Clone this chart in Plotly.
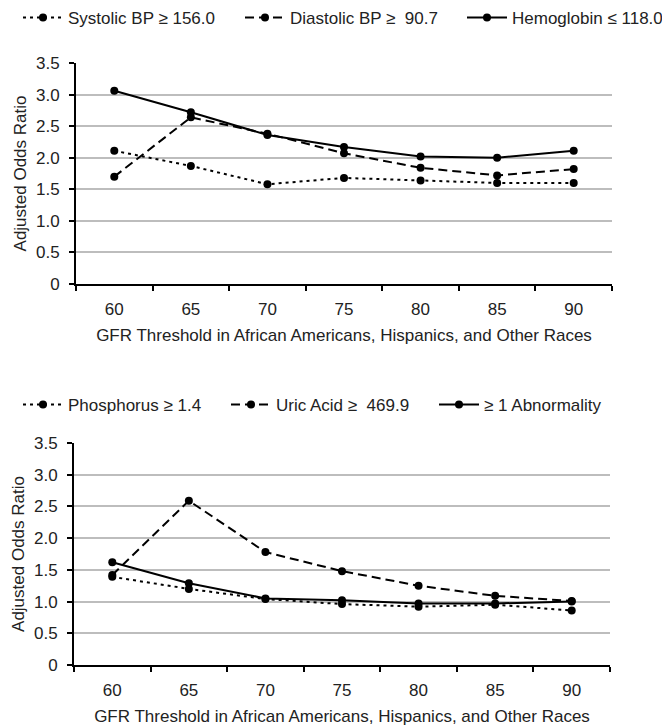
import plotly.graph_objects as go

thresholds = ["60", "65", "70", "75", "80", "85", "90"]
systolic = [2.11, 1.87, 1.58, 1.68, 1.64, 1.60, 1.60]
diastolic = [1.70, 2.64, 2.38, 2.07, 1.84, 1.72, 1.82]
hemoglobin = [3.06, 2.72, 2.36, 2.17, 2.02, 2.00, 2.11]
phosphorus = [1.39, 1.20, 1.04, 0.96, 0.92, 0.95, 0.86]
uric_acid = [1.42, 2.59, 1.78, 1.48, 1.25, 1.09, 1.01]
abnormality = [1.62, 1.29, 1.05, 1.02, 0.97, 0.97, 1.00]

y_ticks = [0, 0.5, 1.0, 1.5, 2.0, 2.5, 3.0, 3.5]
y_tick_text = ["0", "0.5", "1.0", "1.5", "2.0", "2.5", "3.0", "3.5"]

FONT = "Liberation Sans, Arial, sans-serif"
TXT = "#222222"
DOT = "3px,4px"
DASH = "9px,5px"

fig = go.Figure()

def add(name, y, dash, xa, ya, legend):
    fig.add_trace(go.Scatter(
        x=thresholds, y=y, name=name, mode="lines+markers",
        line=dict(color="black", width=2, dash=dash),
        marker=dict(color="black", size=8),
        xaxis=xa, yaxis=ya, legend=legend,
    ))

add("Systolic BP \u2265 156.0", systolic, DOT, "x", "y", "legend")
add("Diastolic BP \u2265  90.7", diastolic, DASH, "x", "y", "legend")
add("Hemoglobin \u2264 118.0", hemoglobin, "solid", "x", "y", "legend")
add("Phosphorus \u2265 1.4", phosphorus, DOT, "x2", "y2", "legend2")
add("Uric Acid \u2265  469.9", uric_acid, DASH, "x2", "y2", "legend2")
add("\u2265 1 Abnormality", abnormality, "solid", "x2", "y2", "legend2")

W, H = 662, 728

def xaxis(domain, anchor):
    return dict(
        domain=domain, anchor=anchor, type="category",
        categoryorder="array", categoryarray=thresholds,
        range=[-0.5, 6.5], tickson="boundaries", automargin=False,
        ticks="outside", ticklen=5, tickwidth=2, tickcolor="black",
        ticklabelstandoff=9,
        showline=True, linecolor="black", linewidth=2,
        showgrid=False, zeroline=False,
        tickfont=dict(family=FONT, size=17, color=TXT),
        title=dict(text="GFR Threshold in African Americans, Hispanics, and Other Races",
                   font=dict(family=FONT, size=17, color=TXT), standoff=11),
    )

def yaxis(domain, anchor):
    return dict(
        domain=domain, anchor=anchor, range=[0, 3.5], automargin=False,
        tickvals=y_ticks, ticktext=y_tick_text,
        ticks="outside", ticklen=5, tickwidth=2, tickcolor="black",
        ticklabelstandoff=6,
        showline=True, linecolor="black", linewidth=2,
        showgrid=True, gridcolor="#bdbdbd", gridwidth=1.5, zeroline=False,
        tickfont=dict(family=FONT, size=17, color=TXT),
        title=dict(text="Adjusted Odds Ratio",
                   font=dict(family=FONT, size=17, color=TXT), standoff=5),
    )

legend_common = dict(
    orientation="h", xanchor="left",
    font=dict(family=FONT, size=17, color=TXT),
    bgcolor="rgba(0,0,0,0)", borderwidth=0,
    itemwidth=40, entrywidth=167, entrywidthmode="pixels", tracegroupgap=0,
)

fig.update_layout(
    template="none",
    width=W, height=H,
    margin=dict(l=0, r=0, t=0, b=0, autoexpand=False),
    paper_bgcolor="white", plot_bgcolor="white",
    font=dict(family=FONT, size=17, color=TXT),
    xaxis=xaxis([76 / W, 612 / W], "y"),
    yaxis=yaxis([(H - 284) / H, (H - 63) / H], "x"),
    xaxis2=xaxis([74 / W, 610 / W], "y2"),
    yaxis2=yaxis([(H - 665) / H, (H - 443) / H], "x2"),
    legend=dict(x=18 / W, y=1.0, yanchor="top", **legend_common),
    legend2=dict(x=18 / W, y=1 - 405 / H, yanchor="middle",
                 **{**legend_common, "entrywidth": 153}),
    showlegend=True,
)

fig.write_html(
    "out.html",
    config={"displayModeBar": False},
    post_script="document.body.style.margin='0';document.body.style.overflow='hidden';",
)
